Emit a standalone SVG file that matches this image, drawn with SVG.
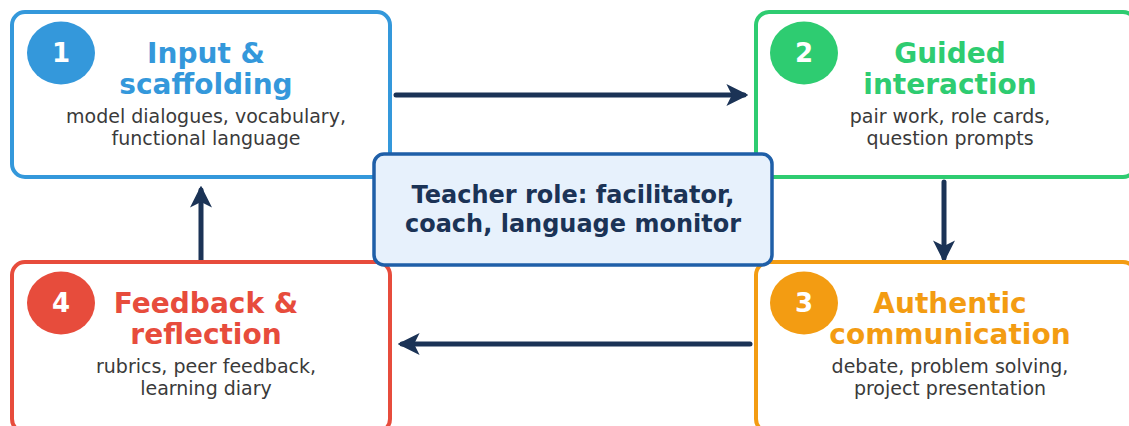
<svg xmlns="http://www.w3.org/2000/svg" width="1129" height="426" viewBox="0 0 1129 426">
  <defs>
    <marker id="arrow" viewBox="0 0 10 10" refX="8" refY="5" markerWidth="4.4" markerHeight="4.4" markerUnits="strokeWidth" orient="auto">
      <path d="M0,0 L10,5 L0,10 L2.5,5 Z" fill="#1b3356"/>
    </marker>
  </defs>
  <style>
    text { font-family: "DejaVu Sans", "Liberation Sans", sans-serif; text-anchor: middle; }
    .box { fill: #ffffff; stroke-width: 4; }
    .title { font-size: 28px; font-weight: bold; }
    .sub { font-size: 19px; fill: #3a3a3a; }
    .num { font-size: 26px; font-weight: bold; fill: #ffffff; }
    .conn { stroke: #1b3356; stroke-width: 5; fill: none; stroke-linecap: round; marker-end: url(#arrow); }
  </style>
  <rect width="1129" height="426" fill="#ffffff"/>

  <!-- connectors -->
  <g id="connectors">
    <line class="conn" x1="396" y1="95" x2="744" y2="95"/>
    <line class="conn" x1="944" y1="182" x2="944" y2="258"/>
    <line class="conn" x1="750" y1="344" x2="402" y2="344"/>
    <line class="conn" x1="201" y1="265" x2="201" y2="190"/>
  </g>

  <!-- step 1 -->
  <g id="step1">
    <rect class="box" x="12" y="12" width="378" height="165" rx="13" stroke="#3498db"/>
    <ellipse cx="61" cy="53" rx="34" ry="31.5" fill="#3498db"/>
    <text class="num" x="61" y="62">1</text>
    <text class="title" x="206" y="63" fill="#3498db">Input &amp;</text>
    <text class="title" x="206" y="94" fill="#3498db">scaffolding</text>
    <text class="sub" x="206" y="123">model dialogues, vocabulary,</text>
    <text class="sub" x="206" y="145">functional language</text>
  </g>

  <!-- step 2 -->
  <g id="step2">
    <rect class="box" x="756" y="12" width="380" height="165" rx="13" stroke="#2ecc71"/>
    <ellipse cx="804" cy="53" rx="34" ry="31.5" fill="#2ecc71"/>
    <text class="num" x="804" y="62">2</text>
    <text class="title" x="950" y="63" fill="#2ecc71">Guided</text>
    <text class="title" x="950" y="94" fill="#2ecc71">interaction</text>
    <text class="sub" x="950" y="123">pair work, role cards,</text>
    <text class="sub" x="950" y="145">question prompts</text>
  </g>

  <!-- step 3 -->
  <g id="step3">
    <rect class="box" x="756" y="262" width="380" height="170" rx="13" stroke="#f39c12"/>
    <ellipse cx="804" cy="303" rx="34" ry="31.5" fill="#f39c12"/>
    <text class="num" x="804" y="312">3</text>
    <text class="title" x="950" y="313" fill="#f39c12">Authentic</text>
    <text class="title" x="950" y="344" fill="#f39c12">communication</text>
    <text class="sub" x="950" y="373">debate, problem solving,</text>
    <text class="sub" x="950" y="395">project presentation</text>
  </g>

  <!-- step 4 -->
  <g id="step4">
    <rect class="box" x="12" y="262" width="378" height="170" rx="13" stroke="#e74c3c"/>
    <ellipse cx="61" cy="303" rx="34" ry="31.5" fill="#e74c3c"/>
    <text class="num" x="61" y="312">4</text>
    <text class="title" x="206" y="313" fill="#e74c3c">Feedback &amp;</text>
    <text class="title" x="206" y="344" fill="#e74c3c">reflection</text>
    <text class="sub" x="206" y="373">rubrics, peer feedback,</text>
    <text class="sub" x="206" y="395">learning diary</text>
  </g>

  <!-- teacher role -->
  <g id="teacher">
    <rect x="374" y="154" width="398" height="111" rx="10" fill="#e7f1fc" stroke="#1f5fa8" stroke-width="3.5"/>
    <text x="573" y="203" font-size="24" font-weight="bold" fill="#1b3356">Teacher role: facilitator,</text>
    <text x="573" y="232" font-size="24" font-weight="bold" fill="#1b3356">coach, language monitor</text>
  </g>
</svg>
